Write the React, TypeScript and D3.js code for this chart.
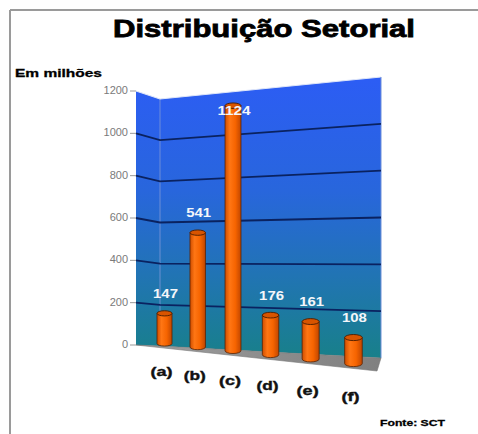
import React from "react";
import * as d3 from "d3";

const categories = ["(a)", "(b)", "(c)", "(d)", "(e)", "(f)"];
const values = [147, 541, 1124, 176, 161, 108];
const yTicks = [0, 200, 400, 600, 800, 1000, 1200];
const title = "Distribuição Setorial";
const unitLabel = "Em milhões";
const sourceLabel = "Fonte: SCT";

const W = 478;
const H = 434;
const FONT = "'Liberation Sans', Arial, sans-serif";

export default function App() {
  const yMax = 1200;
  const frac = d3.scaleLinear().domain([0, yMax]).range([0, 1]);

  // back wall (perspective: right side nearer)
  const backTop = d3.scaleLinear().domain([160, 381]).range([99, 77]);
  const backBot = d3.scaleLinear().domain([160, 381]).range([346, 358]);
  // left side wall
  const sideTop = d3.scaleLinear().domain([136, 160]).range([91, 99]);
  const sideBot = d3.scaleLinear().domain([136, 160]).range([345, 346]);
  const yBack = (x: number, v: number) => backBot(x) + (backTop(x) - backBot(x)) * frac(v);
  const ySide = (x: number, v: number) => sideBot(x) + (sideTop(x) - sideBot(x)) * frac(v);

  // bar plane projection
  const uScale = d3.scalePoint<string>().domain(categories).range([0, 5]);
  const persp = -0.0294;
  const xLine = d3.scaleLinear().domain([0, 1]).range([164.5, 164.5 + 27.4]);
  const yLine = d3.scaleLinear().domain([0, 1]).range([343.5, 343.5 - 6.68]);
  const k = 0.2052;
  const project = (u: number, v: number) => {
    const s = 1 / (1 + persp * u);
    const x = xLine(u) * s;
    const yb = yLine(u) * s;
    return { x, y: yb - k * v * s, yb, s };
  };

  const gridPath = (v: number) =>
    `M136,${ySide(136, v)}L160,${ySide(160, v)}L381,${yBack(381, v)}`;

  const wallPath = `M160,${backTop(160)}L381,${backTop(381)}L381,${backBot(381)}L160,${backBot(160)}Z`;
  const sidePath = `M136,${sideTop(136)}L160,${sideTop(160)}L160,${sideBot(160)}L136,${sideBot(136)}Z`;
  const floorPath = `M136,${sideBot(136)}L160,${backBot(160)}L381,${backBot(381)}L377,371Z`;

  return (
    <svg
      width={W}
      height={H}
      style={{ position: "absolute", left: 0, top: 0, background: "#fff" }}
    >
      <defs>
        <linearGradient id="wallGrad" gradientUnits="userSpaceOnUse" x1="0" y1="80" x2="0" y2="358">
          <stop offset="0" stopColor="#2c5df4" />
          <stop offset="0.4" stopColor="#2866dc" />
          <stop offset="0.7" stopColor="#2174b4" />
          <stop offset="1" stopColor="#18808a" />
        </linearGradient>
        <linearGradient id="floorGrad" x1="0" y1="0" x2="1" y2="0">
          <stop offset="0" stopColor="#a0a0a0" />
          <stop offset="0.5" stopColor="#8e8e8e" />
          <stop offset="1" stopColor="#808080" />
        </linearGradient>
        <linearGradient id="barGrad" x1="0" y1="0" x2="1" y2="0">
          <stop offset="0" stopColor="#d04e00" />
          <stop offset="0.3" stopColor="#ff7614" />
          <stop offset="0.65" stopColor="#f66400" />
          <stop offset="1" stopColor="#c04600" />
        </linearGradient>
      </defs>

      {/* frame */}
      <line x1={10} y1={10} x2={W} y2={10} stroke="#9a9a9a" strokeWidth={2} />
      <line x1={10} y1={10} x2={10} y2={H} stroke="#9a9a9a" strokeWidth={2} />

      {/* title */}
      <text
        x={264}
        y={37}
        textAnchor="middle"
        fontFamily={FONT}
        fontWeight="bold"
        fontSize={24}
        stroke="#000"
        strokeWidth={0.8}
        textLength={302}
        lengthAdjust="spacingAndGlyphs"
      >
        {title}
      </text>
      <text
        x={15}
        y={77}
        fontFamily={FONT}
        fontWeight="bold"
        fontSize={11}
        stroke="#000"
        strokeWidth={0.3}
        textLength={87}
        lengthAdjust="spacingAndGlyphs"
      >
        {unitLabel}
      </text>

      {/* walls */}
      <path d={sidePath} fill="url(#wallGrad)" />
      <path d={wallPath} fill="url(#wallGrad)" />
      <line x1={160} y1={backTop(160)} x2={160} y2={backBot(160)} stroke="#7f98d8" strokeWidth={1} opacity={0.8} />
      <path
        d={`M136,${sideTop(136)}L160,${sideTop(160)}L381,${backTop(381)}`}
        fill="none"
        stroke="#dfe6f8"
        strokeWidth={1.2}
      />
      <line x1={381} y1={backTop(381)} x2={381} y2={backBot(381)} stroke="#6f8fd8" strokeWidth={1} />

      {/* gridlines */}
      {yTicks
        .filter((v) => v > 0 && v < yMax)
        .map((v) => (
          <path key={v} d={gridPath(v)} fill="none" stroke="#0a2260" strokeWidth={1.8} />
        ))}

      {/* y ticks and labels */}
      {yTicks.map((v) => (
        <g key={v}>
          <line x1={130} y1={ySide(136, v)} x2={136} y2={ySide(136, v)} stroke="#999" strokeWidth={1} />
          <text
            x={128}
            y={ySide(136, v) - 1}
            textAnchor="end"
            dominantBaseline="central"
            fontFamily={FONT}
            fontSize={11}
            fill="#7a7a7a"
          >
            {v}
          </text>
        </g>
      ))}

      {/* floor */}
      <path d={floorPath} fill="url(#floorGrad)" stroke="#777" strokeWidth={0.6} />

      {/* bars */}
      {categories.map((c, i) => {
        const u = uScale(c) as number;
        const p = project(u, values[i]);
        const w = 15 * p.s;
        const rx = w / 2;
        const ry = 2.6 * p.s;
        const x0 = p.x - rx;
        const x1 = p.x + rx;
        const body = `M${x0},${p.y}L${x0},${p.yb}A${rx},${ry} 0 0 0 ${x1},${p.yb}L${x1},${p.y}Z`;
        return (
          <g key={c}>
            <path d={body} fill="url(#barGrad)" stroke="#5a2200" strokeWidth={0.8} />
            <ellipse cx={p.x} cy={p.y} rx={rx} ry={ry} fill="#d85400" stroke="#4a1c00" strokeWidth={0.9} />
          </g>
        );
      })}

      {/* value labels */}
      {categories.map((c, i) => {
        const u = uScale(c) as number;
        const p = project(u, values[i]);
        const ly = Math.max(p.y - 20, backTop(p.x) + 19);
        return (
          <text
            key={c}
            x={p.x + 1}
            y={ly}
            textAnchor="middle"
            dominantBaseline="central"
            fontFamily={FONT}
            fontWeight="bold"
            fontSize={13}
            fill="#f4f6fa"
            textLength={String(values[i]).length * 8.3}
            lengthAdjust="spacingAndGlyphs"
          >
            {values[i]}
          </text>
        );
      })}

      {/* category labels */}
      {categories.map((c) => {
        const u = uScale(c) as number;
        const p = project(u, 0);
        return (
          <text
            key={c}
            x={p.x - 3}
            y={p.yb + 28 * p.s}
            textAnchor="middle"
            dominantBaseline="central"
            fontFamily={FONT}
            fontWeight="bold"
            fontSize={13}
            fill="#111"
            stroke="#111"
            strokeWidth={0.4}
            textLength={c === "(f)" ? 18 : 22}
            lengthAdjust="spacingAndGlyphs"
          >
            {c}
          </text>
        );
      })}

      {/* source */}
      <text
        x={380}
        y={426}
        fontFamily={FONT}
        fontWeight="bold"
        fontSize={9.5}
        stroke="#000"
        strokeWidth={0.3}
        textLength={65}
        lengthAdjust="spacingAndGlyphs"
      >
        {sourceLabel}
      </text>
    </svg>
  );
}
